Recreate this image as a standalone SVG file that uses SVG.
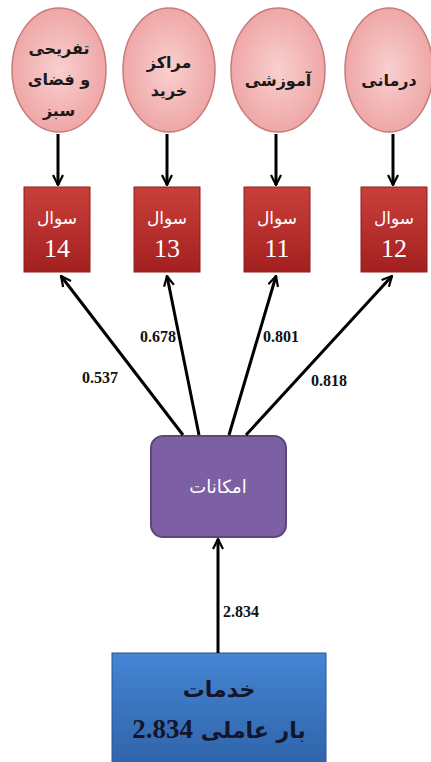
<svg xmlns="http://www.w3.org/2000/svg" width="431" height="762" viewBox="0 0 431 762">
<defs>
<radialGradient id="gPink" cx="50%" cy="50%" r="55%">
<stop offset="0" stop-color="#f9cfcf"/>
<stop offset="1" stop-color="#eea3a3"/>
</radialGradient>
<linearGradient id="gRed" x1="0" y1="0" x2="0" y2="1">
<stop offset="0" stop-color="#c9403a"/>
<stop offset="1" stop-color="#a32020"/>
</linearGradient>
<linearGradient id="gBlue" x1="0" y1="0" x2="0" y2="1">
<stop offset="0" stop-color="#4485d4"/>
<stop offset="1" stop-color="#2f63a8"/>
</linearGradient>
<marker id="arr" viewBox="0 0 12 12" refX="11" refY="6" markerWidth="12" markerHeight="12" markerUnits="userSpaceOnUse" orient="auto">
<path d="M1,1 L11,6 L1,11" fill="none" stroke="#000" stroke-width="2.2"/>
</marker>
</defs>
<style>
.circ{fill:url(#gPink);stroke:#c77a7a;stroke-width:1.5}
.q{fill:url(#gRed);stroke:#8e1c1c;stroke-width:1}
.ct{font-family:"DejaVu Sans",sans-serif;font-size:16px;font-weight:bold;fill:#1a1a1a;text-anchor:middle}
.qt{font-family:"DejaVu Sans",sans-serif;font-size:17px;fill:#fff;text-anchor:middle}
.qn{font-family:"Liberation Serif",serif;font-size:26px;fill:#fff;text-anchor:middle}
.lab{font-family:"Liberation Serif",serif;font-size:16px;font-weight:bold;fill:#111}
.ln{stroke:#000;stroke-width:3;fill:none;marker-end:url(#arr)}
</style>
<rect width="431" height="762" fill="#fff"/>
<g id="c1"><ellipse class="circ" cx="59" cy="70" rx="47" ry="62"/>
<text class="ct" x="59" y="54">تفریحی</text><text class="ct" x="59" y="85">و فضای</text><text class="ct" x="59" y="116">سبز</text></g>
<g id="c2"><ellipse class="circ" cx="169" cy="70" rx="46" ry="62"/>
<text class="ct" x="169" y="68">مراکز</text><text class="ct" x="169" y="96">خرید</text></g>
<g id="c3"><ellipse class="circ" cx="278" cy="70" rx="47" ry="62"/>
<text class="ct" x="278" y="86">آموزشی</text></g>
<g id="c4"><ellipse class="circ" cx="389" cy="70" rx="44" ry="62"/>
<text class="ct" x="389" y="86">درمانی</text></g>
<g id="q14"><rect class="q" x="24" y="187" width="66" height="85"/>
<text class="qt" x="57" y="224">سوال</text><text class="qn" x="57" y="257">14</text></g>
<g id="q13"><rect class="q" x="134" y="187" width="66" height="85"/>
<text class="qt" x="167" y="224">سوال</text><text class="qn" x="167" y="257">13</text></g>
<g id="q11"><rect class="q" x="244" y="187" width="66" height="85"/>
<text class="qt" x="277" y="224">سوال</text><text class="qn" x="277" y="257">11</text></g>
<g id="q12"><rect class="q" x="361" y="187" width="66" height="85"/>
<text class="qt" x="394" y="224">سوال</text><text class="qn" x="394" y="257">12</text></g>
<g id="imkanat"><rect x="151" y="436" width="135" height="101" rx="12" fill="#7d60a3" stroke="#5b477a" stroke-width="2"/>
<text x="218" y="493" font-family="DejaVu Sans,sans-serif" font-size="18" fill="#fff" text-anchor="middle">امکانات</text></g>
<g id="khadamat"><rect x="112" y="653" width="214" height="115" fill="url(#gBlue)" stroke="#2a5590" stroke-width="1"/>
<text x="219" y="697" font-family="DejaVu Sans,sans-serif" font-size="22" font-weight="bold" fill="#15152a" text-anchor="middle">خدمات</text>
<text x="219" y="738" font-family="DejaVu Sans,sans-serif" font-size="22" font-weight="bold" fill="#15152a" text-anchor="middle" direction="rtl">بار عاملی <tspan font-family="Liberation Serif,serif" font-size="27">2.834</tspan></text></g>
<g id="connectors">
<line class="ln" x1="58" y1="134" x2="58" y2="185"/>
<line class="ln" x1="167" y1="134" x2="167" y2="185"/>
<line class="ln" x1="276" y1="134" x2="276" y2="185"/>
<line class="ln" x1="393" y1="134" x2="393" y2="185"/>
<line class="ln" x1="183" y1="435" x2="61" y2="276"/>
<line class="ln" x1="199" y1="435" x2="167" y2="276"/>
<line class="ln" x1="229" y1="435" x2="276" y2="276"/>
<line class="ln" x1="246" y1="435" x2="392" y2="276"/>
<line class="ln" x1="218" y1="653" x2="218" y2="539"/>
</g>
<g id="labels">
<text class="lab" x="82" y="383">0.537</text>
<text class="lab" x="140" y="342">0.678</text>
<text class="lab" x="263" y="342">0.801</text>
<text class="lab" x="311" y="386">0.818</text>
<text class="lab" x="223" y="617">2.834</text>
</g>
</svg>
